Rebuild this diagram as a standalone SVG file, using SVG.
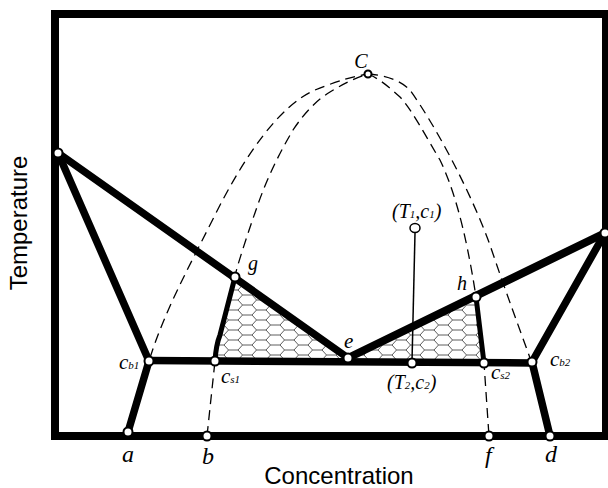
<svg xmlns="http://www.w3.org/2000/svg" width="608" height="488" viewBox="0 0 608 488">
<style>
.frame{fill:none;stroke:#000;stroke-width:8}
.thick{fill:none;stroke:#000;stroke-width:7.5;stroke-linecap:round;stroke-linejoin:round}
.mid{fill:none;stroke:#000;stroke-width:5;stroke-linecap:round}
.dash{fill:none;stroke:#000;stroke-width:1.3;stroke-dasharray:10 6}
.thin{fill:none;stroke:#000;stroke-width:1.5}
.pt{fill:#fff;stroke:#000;stroke-width:2}
.lab{font-family:"Liberation Serif","Times New Roman",serif;font-style:italic;font-size:20px;fill:#000}
.big{font-size:24px}
.sub{font-size:11px}
.axis{font-family:"Liberation Sans",Arial,sans-serif;font-size:24px;fill:#000}
</style>
<defs>
<pattern id="hex" patternUnits="userSpaceOnUse" width="28" height="10" x="0" y="0">
<path d="M0,5 L4.5,0 L14,0 L18.5,5 L14,10 L4.5,10 Z M18.5,5 L28,5" fill="none" stroke="#333" stroke-width="0.8"/>
</pattern>
</defs>
<rect x="0" y="0" width="608" height="488" fill="#fff"/>
<g id="frame">
<rect class="frame" x="55" y="14" width="551" height="422"/>
</g>
<g id="hatch">
<path d="M235,277 L348,358 L348,361.5 L215,361 Q216,345 220,335 Z" fill="url(#hex)"/>
<path d="M348,358 L476,297 L484,363 L348,361.5 Z" fill="url(#hex)"/>
</g>
<g id="connectors">
<path class="dash" d="M150,358 C165,310 190,265 215,215 C245,155 280,105 315,90 C340,80 355,76 368,74"/>
<path class="dash" d="M368,74 C385,75 400,80 410,90 C435,125 470,190 490,245 C505,290 520,330 530,358"/>
<path class="dash" d="M207,436 L215,361 Q216,345 220,335 L237,268 C243,248 250,227 257,207 C267,178 280,152 293,130 C305,112 317,100 330,92 C343,84 355,78 368,74"/>
<path class="dash" d="M368,74 C380,79 390,88 400,97 C412,110 425,135 440,160 C452,185 465,225 476,297 L484,363 L489,436"/>
<path class="thin" d="M415,233 L412,362"/>
<path class="thick" d="M58,153 L149,361"/>
<path class="thick" d="M58,153 L348,358"/>
<path class="thick" style="stroke-width:8" d="M348,358 L605,233"/>
<path class="thick" d="M605,233 L532,362 L550,436"/>
<path class="thick" d="M149,361 L128,432"/>
<path class="thick" d="M149,360.5 L532,363"/>
<path class="mid" d="M235,277 L220,335 Q216,345 215,361"/>
<path class="mid" d="M476,297 L484,363"/>
</g>
<g id="points">
<circle class="pt" cx="58" cy="153" r="4.5"/>
<circle class="pt" cx="605" cy="233" r="4.5"/>
<circle class="pt" cx="368" cy="74" r="3.5"/>
<circle class="pt" cx="149" cy="361" r="4.5"/>
<circle class="pt" cx="215" cy="361" r="4.5"/>
<circle class="pt" cx="235" cy="277" r="4.5"/>
<circle class="pt" cx="348" cy="358" r="4.5"/>
<circle class="pt" cx="412" cy="363" r="4.5"/>
<circle class="pt" cx="476" cy="297" r="4.5"/>
<circle class="pt" cx="484" cy="363" r="4.5"/>
<circle class="pt" cx="532" cy="362" r="4.5"/>
<circle class="pt" cx="128" cy="432" r="4.5"/>
<circle class="pt" cx="207" cy="436" r="4.5"/>
<circle class="pt" cx="489" cy="436" r="4.5"/>
<circle class="pt" cx="550" cy="436" r="4.5"/>
<ellipse class="pt" style="stroke-width:1.5" cx="415" cy="228" rx="5" ry="4.5"/>
</g>
<g id="labels">
<text class="lab" x="361" y="68" text-anchor="middle">C</text>
<text class="lab" x="248" y="270">g</text>
<text class="lab" x="457" y="290">h</text>
<text class="lab" style="font-size:21px" x="344" y="348">e</text>
<text class="lab" x="392" y="218">(T<tspan class="sub">1</tspan>,c<tspan class="sub">1</tspan>)</text>
<text class="lab" x="387" y="389">(T<tspan class="sub">2</tspan>,c<tspan class="sub">2</tspan>)</text>
<text class="lab" style="font-size:21px" x="119" y="369">c<tspan class="sub">b1</tspan></text>
<text class="lab" style="font-size:21px" x="221" y="383">c<tspan class="sub">s1</tspan></text>
<text class="lab" style="font-size:21px" x="491" y="379">c<tspan class="sub">s2</tspan></text>
<text class="lab" style="font-size:21px" x="550" y="366">c<tspan class="sub">b2</tspan></text>
<text class="lab big" x="122" y="462">a</text>
<text class="lab big" x="202" y="464">b</text>
<text class="lab big" x="485" y="463">f</text>
<text class="lab big" x="545" y="462">d</text>
<text class="axis" x="339" y="484" text-anchor="middle">Concentration</text>
<text class="axis" transform="translate(26.5,223) rotate(-90)" text-anchor="middle">Temperature</text>
</g>
</svg>
